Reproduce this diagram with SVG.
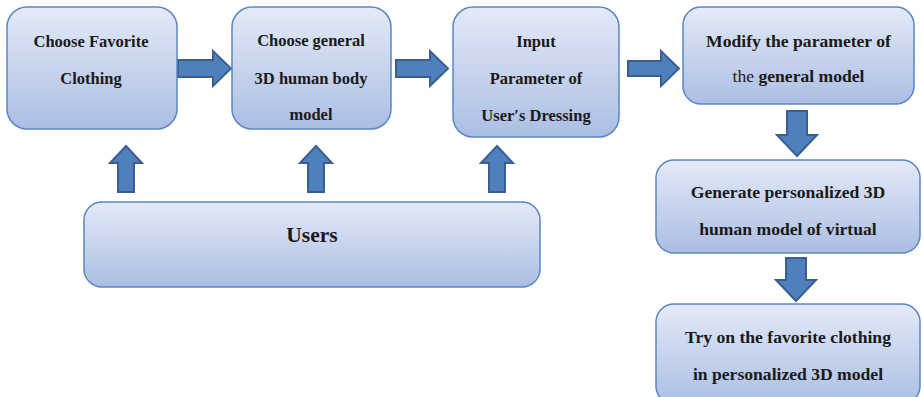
<svg xmlns="http://www.w3.org/2000/svg" width="923" height="397" viewBox="0 0 923 397">
  <defs>
    <linearGradient id="boxFill" x1="0" y1="0" x2="0" y2="1">
      <stop offset="0" stop-color="#e4eaf7"/>
      <stop offset="1" stop-color="#abbee3"/>
    </linearGradient>
    <style>
      .box { fill: url(#boxFill); stroke: #5b86c0; stroke-width: 1.5; }
      .arrow { fill: #4f7fbd; stroke: #3a5f8e; stroke-width: 2; stroke-linejoin: miter; }
      .lbl { font-weight: bold; font-size: 16.5px; fill: #1a1a1a; text-anchor: middle; }
      .wide { font-size: 17.6px; }
      .reg { font-weight: normal; }
      .big { font-size: 21.5px; }
    </style>
  </defs>

  <!-- block arrows between steps -->
  <g id="connectors">
    <!-- right-pointing arrows -->
    <path class="arrow" d="M178,60 H213 V51 L231,68.5 L213,86 V77 H178 Z"/>
    <path class="arrow" d="M396,60 H430 V51 L448,68.5 L430,86 V77 H396 Z"/>
    <path class="arrow" d="M628,61 H661 V51 L679,68.5 L661,86 V76 H628 Z"/>
    <!-- down arrows -->
    <path class="arrow" d="M787,111 H807 V135 H817 L797,156 L777,135 H787 Z"/>
    <path class="arrow" d="M786,258 H806 V280 H816 L796,301 L776,280 H786 Z"/>
    <!-- up arrows from Users -->
    <path class="arrow" d="M118,192 V163 H110 L126,146 L142,163 H134 V192 Z"/>
    <path class="arrow" d="M308,192 V163 H300 L316,146 L332,163 H324 V192 Z"/>
    <path class="arrow" d="M489,192 V163 H481 L497,146 L513,163 H505 V192 Z"/>
  </g>

  <g font-family="Liberation Serif, DejaVu Serif, serif">
  <g id="choose-clothing">
    <rect class="box" x="7" y="7" width="170" height="122" rx="20"/>
    <text class="lbl" x="91" y="47">Choose Favorite</text>
    <text class="lbl" x="91" y="84">Clothing</text>
  </g>

  <g id="choose-body-model">
    <rect class="box" x="232" y="7" width="159" height="122" rx="20"/>
    <text class="lbl" x="311" y="46">Choose general</text>
    <text class="lbl" x="311" y="84">3D human body</text>
    <text class="lbl" x="311" y="120">model</text>
  </g>

  <g id="input-parameter">
    <rect class="box" x="453" y="7" width="166" height="130" rx="20"/>
    <text class="lbl" x="536" y="47">Input</text>
    <text class="lbl" x="536" y="84">Parameter of</text>
    <text class="lbl" x="536" y="121">User′s Dressing</text>
  </g>

  <g id="modify-parameter">
    <rect class="box" x="683" y="7" width="231" height="97" rx="18"/>
    <text class="lbl wide" x="798.5" y="47">Modify the parameter of</text>
    <text class="lbl wide" x="798.5" y="82"><tspan class="reg">the </tspan>general model</text>
  </g>

  <g id="generate-model">
    <rect class="box" x="656" y="160" width="264" height="93" rx="18"/>
    <text class="lbl wide" x="788" y="198">Generate personalized 3D</text>
    <text class="lbl wide" x="788" y="235">human model of virtual</text>
  </g>

  <g id="try-on">
    <rect class="box" x="656" y="304" width="264" height="100" rx="18"/>
    <text class="lbl wide" x="788" y="343">Try on the favorite clothing</text>
    <text class="lbl wide" x="788" y="380">in personalized 3D model</text>
  </g>

  <g id="users">
    <rect class="box" x="84" y="202" width="456" height="85" rx="18"/>
    <text class="lbl big" x="312" y="242">Users</text>
  </g>
  </g>
</svg>
